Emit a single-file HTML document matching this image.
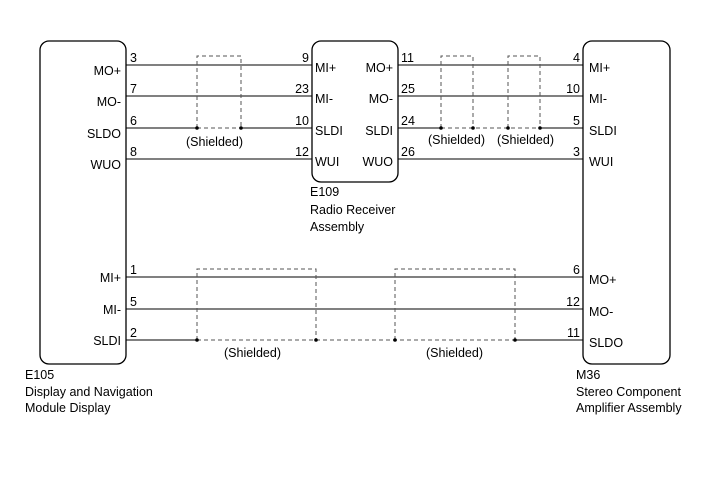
<!DOCTYPE html>
<html><head><meta charset="utf-8"><style>
html,body{margin:0;padding:0;background:#fff;}
svg{display:block;}
text{font-family:"Liberation Sans",Arial,sans-serif;font-size:12.5px;fill:#000;}
</style></head><body>
<svg width="713" height="481" viewBox="0 0 713 481" xmlns="http://www.w3.org/2000/svg">
<g fill="none" stroke="#000" stroke-width="1.3">
<rect x="40" y="41" width="86" height="323" rx="9"/>
<rect x="312" y="41" width="86" height="141" rx="9"/>
<rect x="583" y="41" width="87" height="323" rx="9"/>
</g>
<g stroke="#000" stroke-width="1">
<line x1="126" y1="65" x2="312" y2="65"/>
<line x1="126" y1="96" x2="312" y2="96"/>
<line x1="126" y1="128" x2="197" y2="128"/>
<line x1="241" y1="128" x2="312" y2="128"/>
<line x1="126" y1="159" x2="312" y2="159"/>
<line x1="398" y1="65" x2="583" y2="65"/>
<line x1="398" y1="96" x2="583" y2="96"/>
<line x1="398" y1="128" x2="441" y2="128"/>
<line x1="540" y1="128" x2="583" y2="128"/>
<line x1="398" y1="159" x2="583" y2="159"/>
<line x1="126" y1="277" x2="583" y2="277"/>
<line x1="126" y1="309" x2="583" y2="309"/>
<line x1="126" y1="340" x2="197" y2="340"/>
<line x1="515" y1="340" x2="583" y2="340"/>
</g>
<g fill="none" stroke="#555" stroke-width="1" stroke-dasharray="4,3">
<polyline points="197,128 197,56 241,56 241,128"/>
<line x1="197" y1="128" x2="241" y2="128"/>
<polyline points="441,128 441,56 473,56 473,128"/>
<polyline points="508,128 508,56 540,56 540,128"/>
<line x1="441" y1="128" x2="540" y2="128"/>
<polyline points="197,340 197,269 316,269 316,340"/>
<polyline points="395,340 395,269 515,269 515,340"/>
<line x1="197" y1="340" x2="515" y2="340"/>
</g>
<g fill="#000">
<circle cx="197" cy="128" r="1.8"/><circle cx="241" cy="128" r="1.8"/>
<circle cx="441" cy="128" r="1.8"/><circle cx="473" cy="128" r="1.8"/>
<circle cx="508" cy="128" r="1.8"/><circle cx="540" cy="128" r="1.8"/>
<circle cx="197" cy="340" r="1.8"/><circle cx="316" cy="340" r="1.8"/>
<circle cx="395" cy="340" r="1.8"/><circle cx="515" cy="340" r="1.8"/>
</g>
<g text-anchor="end">
<text x="121" y="75">MO+</text><text x="121" y="106">MO-</text><text x="121" y="138">SLDO</text><text x="121" y="169">WUO</text>
<text x="121" y="282">MI+</text><text x="121" y="314">MI-</text><text x="121" y="345">SLDI</text>
<text x="393" y="72">MO+</text><text x="393" y="103">MO-</text><text x="393" y="135">SLDI</text><text x="393" y="166">WUO</text>
<text x="309" y="62">9</text><text x="309" y="93">23</text><text x="309" y="125">10</text><text x="309" y="156">12</text>
<text x="580" y="62">4</text><text x="580" y="93">10</text><text x="580" y="125">5</text><text x="580" y="156">3</text>
<text x="580" y="274">6</text><text x="580" y="306">12</text><text x="580" y="337">11</text>
</g>
<text x="130" y="62">3</text><text x="130" y="93">7</text><text x="130" y="125">6</text><text x="130" y="156">8</text>
<text x="130" y="274">1</text><text x="130" y="306">5</text><text x="130" y="337">2</text>
<text x="401" y="62">11</text><text x="401" y="93">25</text><text x="401" y="125">24</text><text x="401" y="156">26</text>
<text x="315" y="72">MI+</text><text x="315" y="103">MI-</text><text x="315" y="135">SLDI</text><text x="315" y="166">WUI</text>
<text x="589" y="72">MI+</text><text x="589" y="103">MI-</text><text x="589" y="135">SLDI</text><text x="589" y="166">WUI</text>
<text x="589" y="284">MO+</text><text x="589" y="316">MO-</text><text x="589" y="347">SLDO</text>
<text x="186" y="146">(Shielded)</text>
<text x="428" y="144">(Shielded)</text><text x="497" y="144">(Shielded)</text>
<text x="224" y="357">(Shielded)</text><text x="426" y="357">(Shielded)</text>
<text x="310" y="196">E109</text><text x="310" y="214">Radio Receiver</text><text x="310" y="231">Assembly</text>
<text x="25" y="379">E105</text><text x="25" y="396">Display and Navigation</text><text x="25" y="412">Module Display</text>
<text x="576" y="379">M36</text><text x="576" y="396">Stereo Component</text><text x="576" y="412">Amplifier Assembly</text>
</svg>
</body></html>
